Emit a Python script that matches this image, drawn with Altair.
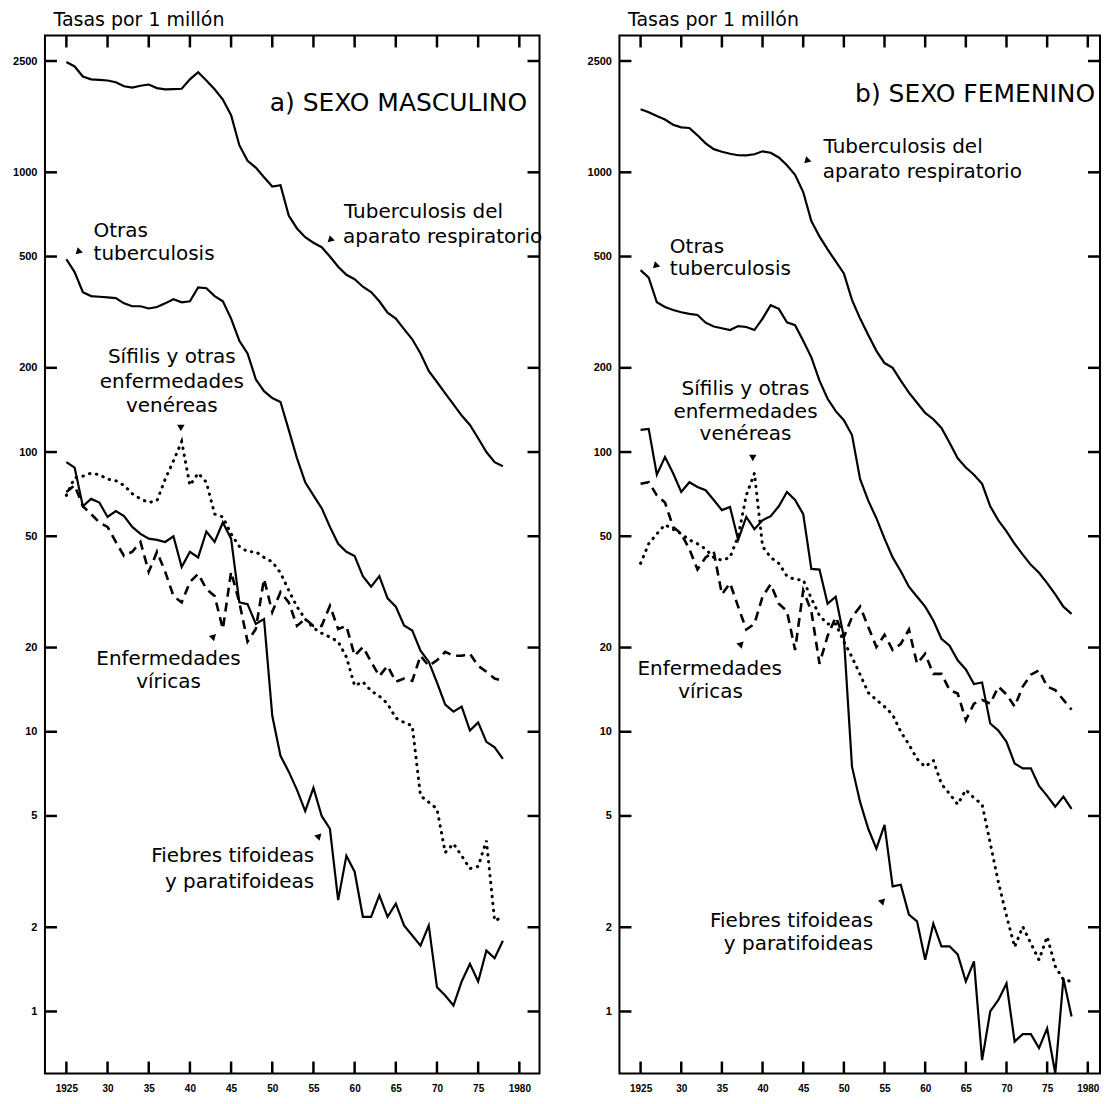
import altair as alt
import pandas as pd

years = list(range(1925, 1979))

# ---------------- a) SEXO MASCULINO (tasas por 1 millón) ----------------
m_tb_resp = [2480, 2390, 2200, 2150, 2140, 2130, 2100, 2030, 2010, 2040,
             2060, 2000, 1980, 1985, 1990, 2150, 2280, 2130, 1980, 1820,
             1600, 1250, 1100, 1040, 960, 890, 900, 700, 630, 586,
             560, 540, 500, 460, 430, 415, 390, 373, 346, 315,
             300, 275, 253, 225, 195, 178, 162, 148, 135, 125,
             112, 100, 92, 89]
m_otras_tb = [489, 440, 373, 361, 359, 357, 355, 340, 332, 332,
              326, 330, 340, 352, 343, 346, 388, 385, 361, 346,
              300, 250, 225, 182, 165, 156, 151, 120, 95, 78,
              70, 63, 54, 47, 44, 42.5, 36, 33, 36, 30,
              28, 24, 23, 19.5, 17.8, 15, 12.5, 11.8, 12.3, 10.1,
              10.8, 9.2, 8.8, 8.0]
m_tifoideas = [92, 88, 64, 68, 66, 58.6, 61.5, 59, 54, 51,
               49, 48.5, 47.7, 50, 38.8, 44, 42, 52, 47.7, 56,
               49, 29, 28.6, 24.3, 25.3, 11.4, 8.2, 7.2, 6.2, 5.2,
               6.3, 5.0, 4.5, 2.5, 3.6, 3.16, 2.18, 2.18, 2.6, 2.18,
               2.43, 2.03, 1.87, 1.72, 2.03, 1.22, 1.14, 1.05, 1.28, 1.48,
               1.28, 1.65, 1.55, 1.79]
m_sifilis = [70, 81, 82, 84, 83, 80, 79, 76, 71, 68,
             66, 67, 80, 93, 109, 76, 84, 78, 60, 58.6,
             51, 46, 44, 44, 42, 40.5, 37, 32, 28, 25.3,
             23.5, 22.5, 21.8, 21, 18.5, 14.6, 15.1, 14, 13.4, 12.6,
             11.2, 10.8, 10.5, 5.9, 5.6, 5.3, 3.7, 3.98, 3.6, 3.24,
             3.3, 4.08, 2.11, 2.18]
m_viricas = [72, 76, 64, 60, 56, 54, 47.7, 42.5, 44, 47.7,
             37.3, 44, 37.3, 30.6, 29, 34.3, 36.7, 32.4, 30.6, 23.3,
             37.3, 29, 21, 23.3, 35.2, 26.8, 31.6, 29, 23.9, 25.3,
             23.9, 23.9, 28.2, 23.3, 23.9, 18.7, 20.1, 17.8, 15.8, 17.2,
             15.1, 15.5, 15.2, 18.7, 17.2, 18, 19.3, 18.7, 18.7, 19,
             17.2, 16.4, 15.5, 15.2]

# ---------------- b) SEXO FEMENINO ----------------
f_tb_resp = [1680, 1640, 1590, 1545, 1480, 1448, 1440, 1356, 1270, 1210,
             1185, 1165, 1151, 1150, 1160, 1189, 1175, 1130, 1060, 980,
             850, 670, 590, 530, 480, 435, 350, 300, 262, 230,
             208, 200, 180, 163, 150, 138, 131, 122, 108, 95,
             88, 83, 77, 64, 57, 52, 47, 43, 39.5, 37,
             34, 31, 28, 26.4]
f_otras_tb = [447, 420, 343, 330, 322, 316, 312, 309, 290, 281,
              277, 273, 282, 280, 273, 300, 335, 325, 291, 284,
              250, 218, 180, 155, 140, 130, 115, 80, 67, 58,
              49, 42, 37.5, 33, 30.4, 28, 25, 21.5, 20.3, 18,
              16.7, 14.8, 15, 10.7, 10.1, 9.2, 7.7, 7.4, 7.4, 6.4,
              5.9, 5.4, 5.86, 5.3]
f_tifoideas = [120, 121, 83, 96, 84, 72, 78, 75, 73, 67.4,
               62, 63.6, 48.5, 58.6, 53, 57, 59, 64, 72, 67.4,
               60, 38.2, 38, 28.7, 30.4, 21.8, 7.5, 5.6, 4.5, 3.82,
               4.65, 2.8, 2.84, 2.22, 2.1, 1.53, 2.06, 1.71, 1.71, 1.6,
               1.28, 1.51, 0.67, 1.0, 1.1, 1.26, 0.78, 0.83, 0.83, 0.74,
               0.87, 0.6, 1.31, 0.96]
f_sifilis = [40, 47, 51, 55, 53, 51, 48.5, 47, 45, 42,
             41, 42, 50, 70, 84, 46, 42, 40, 36, 35,
             34.9, 30, 26, 24.3, 24.3, 21, 18.5, 16, 13.8, 13,
             12.3, 11.5, 10, 9, 8, 7.5, 7.9, 6.5, 6, 5.5,
             6.2, 5.8, 5.5, 4, 2.9, 2.2, 1.7, 2.01, 1.75, 1.53,
             1.85, 1.45, 1.3, 1.28]
f_viricas = [77, 78, 70, 66, 54, 51, 45, 38, 42, 44,
             31, 34, 28, 23.2, 24.3, 30.4, 33.7, 28.7, 27, 19.6,
             32, 27, 17.5, 22, 25.7, 21.8, 25.7, 28, 23.7, 20.1,
             22.2, 19.6, 20.6, 23.2, 17.5, 19, 16.1, 16.1, 14.1, 13.7,
             11, 12.6, 13, 12.6, 14.5, 13.6, 12.3, 14.5, 16, 16.6,
             14.5, 14.1, 13, 12]

series_keys = ["tb_resp", "otras_tb", "tifoideas", "sifilis", "viricas"]
series_kind = ["solid", "solid", "solid", "dotted", "dashed"]

# axis ticks
y_ticks = [1, 2, 5, 10, 20, 50, 100, 200, 500, 1000, 2500]
y_tick_labels = ["1", "2", "5", "10", "20", "50", "100", "200", "500", "1000", "2500"]
x_ticks = [1925, 1930, 1935, 1940, 1945, 1950, 1955, 1960, 1965, 1970, 1975, 1980]
x_tick_labels = ["1925", "30", "35", "40", "45", "50", "55", "60", "65", "70", "75", "1980"]

y_axis_title = "Tasas por 1 millón"

# panel titles
m_title = ["a) SEXO MASCULINO"]
m_title_year = [1980.95]
m_title_value = [1763]
f_title = ["b) SEXO FEMENINO"]
f_title_year = [1980.9]
f_title_value = [1900]

# annotations (text anchored in data coordinates)
m_ann_text = ["Tuberculosis del", "aparato respiratorio", "Otras", "tuberculosis",
              "Sífilis y otras", "enfermedades", "venéreas",
              "Enfermedades", "víricas", "Fiebres tifoideas", "y paratifoideas"]
m_ann_year = [1958.7, 1958.6, 1928.3, 1928.3, 1937.8, 1937.8, 1937.8,
              1937.4, 1937.4, 1955.1, 1955.1]
m_ann_value = [720, 586, 615, 510, 218, 178, 146, 18.2, 15.1, 3.61, 2.91]
m_ann_align = ["left", "left", "left", "left", "center", "center", "center",
               "center", "center", "right", "right"]
m_arrow_year = [1957.1, 1926.5, 1938.9, 1942.8, 1955.6]
m_arrow_value = [576, 522, 123, 21.8, 4.22]
m_arrow_dir = [225, 225, 180, 45, 45]

f_ann_text = ["Tuberculosis del", "aparato respiratorio", "Otras", "tuberculosis",
              "Sífilis y otras", "enfermedades", "venéreas",
              "Enfermedades", "víricas", "Fiebres tifoideas", "y paratifoideas"]
f_ann_year = [1947.5, 1947.4, 1928.6, 1928.6, 1937.9, 1937.9, 1937.9,
              1933.5, 1933.6, 1953.6, 1953.6]
f_ann_value = [1228, 1000, 540, 451, 168, 139, 116, 16.8, 13.9, 2.11, 1.74]
f_ann_align = ["left", "left", "left", "left", "center", "center", "center",
               "center", "center", "right", "right"]
f_arrow_year = [1945.5, 1926.9, 1938.8, 1937.3, 1954.7]
f_arrow_value = [1104, 465, 96, 20.5, 2.47]
f_arrow_dir = [225, 225, 180, 45, 45]

M_X_DOMAIN = [1922.4, 1982.45]
F_X_DOMAIN = [1922.4, 1981.5]
Y_DOMAIN = [0.6, 3085]
H = 1039
TICK = 12


def label_expr(vals, labels):
    expr = "''"
    for v, l in reversed(list(zip(vals, labels))):
        expr = f"datum.value == {v} ? '{l}' : ({expr})"
    return expr


def make_panel(series_values, title_text, title_year, title_value,
               ann_text, ann_year, ann_value, ann_align,
               arr_year, arr_value, arr_dir, width, x_domain):
    rows = []
    for key, kind, vals in zip(series_keys, series_kind, series_values):
        for yr, v in zip(years, vals):
            rows.append({"series": key, "kind": kind, "year": yr, "value": v})
    df = pd.DataFrame(rows)

    xs = alt.Scale(domain=x_domain, nice=False, zero=False)
    ys = alt.Scale(type="log", domain=Y_DOMAIN, nice=False)

    x_axis = alt.Axis(values=x_ticks, labelExpr=label_expr(x_ticks, x_tick_labels),
                      ticks=False, domain=False, grid=False,
                      labelPadding=10, labelFont="Liberation Sans", labelFontSize=10,
                      labelFontWeight="bold", labelColor="black", labelFlush=False,
                      labelOverlap=False, title=None)
    y_axis = alt.Axis(values=y_ticks, labelExpr=label_expr(y_ticks, y_tick_labels),
                      ticks=False, domain=False, grid=False,
                      labelPadding=8, labelFont="Liberation Sans", labelFontSize=11,
                      labelFontWeight="bold", labelColor="black", labelOverlap=False,
                      title=y_axis_title, titleAngle=0, titleAlign="left",
                      titleBaseline="middle", titleX=8, titleY=-16,
                      titleFont="DejaVu Sans", titleFontSize=19,
                      titleFontWeight="normal", titleColor="black")

    X = lambda f="year": alt.X(f"{f}:Q", scale=xs, axis=x_axis)
    Y = lambda f="value": alt.Y(f"{f}:Q", scale=ys, axis=y_axis)

    base = alt.Chart(df)
    solid = base.transform_filter(alt.datum.kind == "solid").mark_line(
        color="black", strokeWidth=2.2, clip=True).encode(
        x=X(), y=Y(), detail="series:N")
    dotted = base.transform_filter(alt.datum.kind == "dotted").mark_line(
        color="black", strokeWidth=3, strokeDash=[0.5, 6.5], strokeCap="round",
        clip=True).encode(x=X(), y=Y())
    dashed = base.transform_filter(alt.datum.kind == "dashed").mark_line(
        color="black", strokeWidth=2.6, strokeDash=[9, 6], clip=True).encode(
        x=X(), y=Y())

    yt = pd.DataFrame({"value": y_ticks})
    xt = pd.DataFrame({"year": x_ticks})
    rule = dict(color="black", strokeWidth=2.5)
    ytl = alt.Chart(yt).mark_rule(**rule).encode(
        y=Y(), x=alt.value(0), x2=alt.value(TICK))
    ytr = alt.Chart(yt).mark_rule(**rule).encode(
        y=Y(), x=alt.value(width - TICK), x2=alt.value(width))
    xtb = alt.Chart(xt).mark_rule(**rule).encode(
        x=X(), y=alt.value(H - TICK), y2=alt.value(H))
    xtt = alt.Chart(xt).mark_rule(**rule).encode(
        x=X(), y=alt.value(0), y2=alt.value(TICK))

    ann = pd.DataFrame({"text": ann_text, "year": ann_year, "value": ann_value,
                        "align": ann_align})
    texts = []
    for al in ["left", "center", "right"]:
        texts.append(alt.Chart(ann).transform_filter(alt.datum.align == al).mark_text(
            align=al, baseline="middle", font="DejaVu Sans", fontSize=20,
            color="black").encode(x=X(), y=Y(), text="text:N"))

    tdf = pd.DataFrame({"text": title_text, "year": title_year, "value": title_value})
    title = alt.Chart(tdf).mark_text(
        align="right", baseline="middle", font="DejaVu Sans", fontSize=25,
        color="black").encode(x=X(), y=Y(), text="text:N")

    adf = pd.DataFrame({"year": arr_year, "value": arr_value, "dir": arr_dir})
    arrows = alt.Chart(adf).mark_point(
        shape="triangle", filled=True, color="black", size=55, opacity=1).encode(
        x=X(), y=Y(), angle=alt.Angle("dir:Q", scale=None))

    return alt.layer(solid, dotted, dashed, ytl, ytr, xtb, xtt, *texts, title,
                     arrows).properties(width=width, height=H)


left = make_panel([m_tb_resp, m_otras_tb, m_tifoideas, m_sifilis, m_viricas],
                  m_title, m_title_year, m_title_value,
                  m_ann_text, m_ann_year, m_ann_value, m_ann_align,
                  m_arrow_year, m_arrow_value, m_arrow_dir, 495, M_X_DOMAIN)
right = make_panel([f_tb_resp, f_otras_tb, f_tifoideas, f_sifilis, f_viricas],
                   f_title, f_title_year, f_title_value,
                   f_ann_text, f_ann_year, f_ann_value, f_ann_align,
                   f_arrow_year, f_arrow_value, f_arrow_dir, 481, F_X_DOMAIN)

chart = alt.hconcat(left, right, spacing=80, bounds="flush").properties(
    padding={"left": 3, "top": 1, "right": 0, "bottom": 0},
    background="white",
).configure_view(stroke="black", strokeWidth=2)

chart.save("out.html", embed_options={"renderer": "svg", "actions": False})
